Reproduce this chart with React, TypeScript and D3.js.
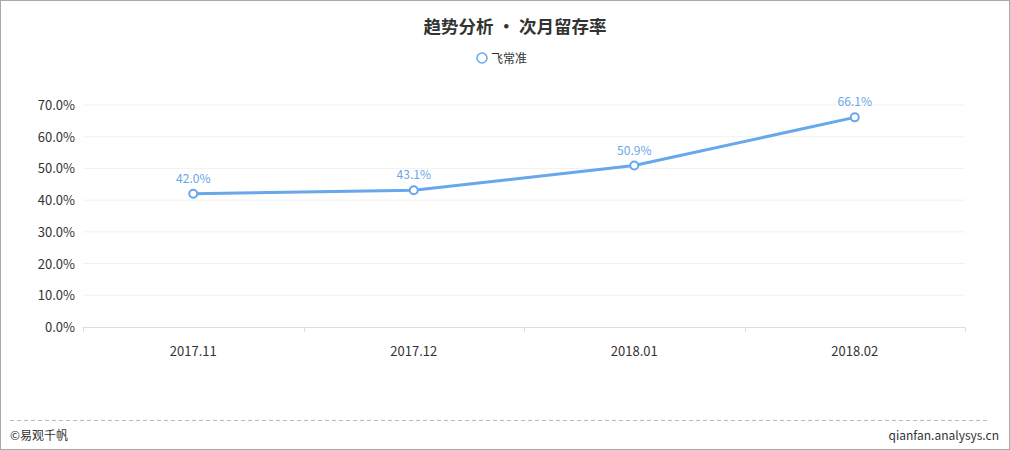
import React, { useEffect, useRef } from "react";
import * as d3 from "d3";

const categories = ["2017.11", "2017.12", "2018.01", "2018.02"];
const retention = [42.0, 43.1, 50.9, 66.1];
const yTicks = [0, 10, 20, 30, 40, 50, 60, 70];
const seriesName = "飞常准";

const W = 1010;
const H = 450;
const FONT = "'Noto Sans CJK SC', 'Microsoft YaHei', sans-serif";
const BLUE = "#67a7ea";

export default function App() {
  const ref = useRef<SVGSVGElement>(null);

  useEffect(() => {
    const svg = d3.select(ref.current);
    svg.selectAll("*").remove();

    const margin = { top: 105, right: 45, bottom: 123, left: 83 };

    // frame
    svg.append("rect")
      .attr("x", 0.5).attr("y", 0.5)
      .attr("width", W - 1).attr("height", H - 1)
      .attr("fill", "#fff").attr("stroke", "#a9a9a9");

    // title
    svg.append("text")
      .attr("x", 515).attr("y", 33)
      .attr("text-anchor", "middle")
      .attr("font-family", FONT).attr("font-size", 17.5).attr("font-weight", "bold")
      .attr("fill", "#333")
      .text("趋势分析 • 次月留存率");

    // legend
    const lg = svg.append("g").attr("transform", "translate(482, 58)");
    lg.append("circle").attr("r", 5).attr("fill", "#fff").attr("stroke", BLUE).attr("stroke-width", 1.5);
    lg.append("text")
      .attr("x", 9).attr("y", 4.5)
      .attr("font-family", FONT).attr("font-size", 12).attr("fill", "#333")
      .text(seriesName);

    const x = d3.scaleBand()
      .domain(categories)
      .range([margin.left, W - margin.right]);

    const y = d3.scaleLinear()
      .domain([0, 70])
      .range([H - margin.bottom, margin.top]);

    // grid lines
    svg.append("g")
      .selectAll("line")
      .data(yTicks.slice(1))
      .join("line")
      .attr("x1", margin.left).attr("x2", W - margin.right)
      .attr("y1", d => y(d)).attr("y2", d => y(d))
      .attr("stroke", "#f1f1f1");

    // y axis labels
    svg.append("g")
      .selectAll("text")
      .data(yTicks)
      .join("text")
      .attr("x", margin.left - 8)
      .attr("y", d => y(d) + 5)
      .attr("text-anchor", "end")
      .attr("font-family", FONT).attr("font-size", 13).attr("fill", "#333")
      .text(d => d.toFixed(1) + "%");

    // x axis
    const xAxis = svg.append("g")
      .attr("transform", `translate(0, ${y(0)})`)
      .call(d3.axisBottom(x).tickSize(0).tickPadding(20));
    xAxis.select(".domain").attr("stroke", "#ddd");
    xAxis.selectAll("text")
      .attr("font-family", FONT).attr("font-size", 13).attr("fill", "#333");

    // tick marks at band boundaries
    const bounds = [margin.left, ...categories.map(c => (x(c) as number) + x.bandwidth())];
    svg.append("g")
      .selectAll("line")
      .data(bounds)
      .join("line")
      .attr("x1", d => Math.round(d) + 0.5).attr("x2", d => Math.round(d) + 0.5)
      .attr("y1", y(0)).attr("y2", y(0) + 5)
      .attr("stroke", "#ddd");

    const cx = (c: string) => (x(c) as number) + x.bandwidth() / 2;

    const line = d3.line<number>()
      .x((_, i) => cx(categories[i]))
      .y(d => y(d));

    svg.append("path")
      .datum(retention)
      .attr("d", line)
      .attr("fill", "none")
      .attr("stroke", BLUE)
      .attr("stroke-width", 3);

    svg.append("g")
      .selectAll("circle")
      .data(retention)
      .join("circle")
      .attr("cx", (_, i) => cx(categories[i]))
      .attr("cy", d => y(d))
      .attr("r", 4)
      .attr("fill", "#fff")
      .attr("stroke", BLUE)
      .attr("stroke-width", 2);

    svg.append("g")
      .selectAll("text")
      .data(retention)
      .join("text")
      .attr("x", (_, i) => cx(categories[i]))
      .attr("y", d => y(d) - 11)
      .attr("text-anchor", "middle")
      .attr("font-family", FONT).attr("font-size", 12).attr("fill", BLUE)
      .text(d => d.toFixed(1) + "%");

    // footer
    svg.append("line")
      .attr("x1", 10).attr("x2", 990)
      .attr("y1", 420.5).attr("y2", 420.5)
      .attr("stroke", "#bbb")
      .attr("stroke-dasharray", "4,3");

    svg.append("text")
      .attr("x", 10).attr("y", 440)
      .attr("font-family", FONT).attr("font-size", 12).attr("fill", "#333")
      .text("©易观千帆");

    svg.append("text")
      .attr("x", 999).attr("y", 440)
      .attr("text-anchor", "end")
      .attr("font-family", FONT).attr("font-size", 12).attr("fill", "#333")
      .text("qianfan.analysys.cn");
  }, []);

  return (
    <div style={{ position: "absolute", left: 0, top: 0 }}>
      <svg ref={ref} width={W} height={H}></svg>
    </div>
  );
}
